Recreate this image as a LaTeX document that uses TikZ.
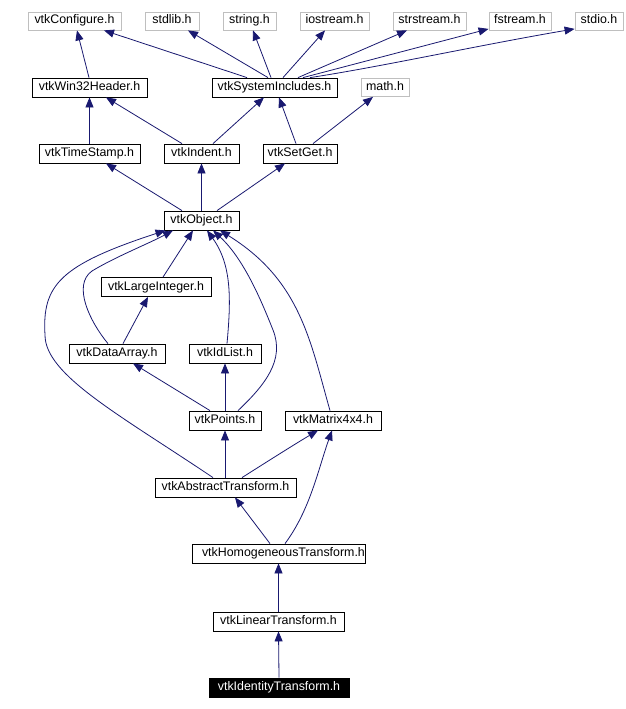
\documentclass[tikz,border=0pt]{standalone}
\usepackage{fontspec}
\setmainfont{Liberation Sans}
\usetikzlibrary{arrows.meta}
\definecolor{edgec}{HTML}{191970}
\definecolor{grayc}{HTML}{BFBFBF}
\begin{document}
\begin{tikzpicture}[x=1pt,y=-1pt,
  nbox/.style={draw=black,line width=0.8pt,fill=white,inner xsep=0pt,inner ysep=0pt,
    minimum height=19pt,text height=9pt,text depth=3pt,font=\fontsize{12.4}{14}\selectfont},
  gbox/.style={nbox,draw=grayc,minimum height=18pt},
  hbox/.style={nbox,fill=black,text=white},
  edge/.style={draw=edgec,line width=0.8pt,-{Triangle[length=10pt,width=8pt]}}]
\useasboundingbox[fill=white] (0,0) rectangle (625,709);
% row 1
\node[gbox,minimum width=93pt] (conf) at (74.5,21) {vtkConfigure.h};
\node[gbox,minimum width=54pt] (stdlib) at (172,21) {stdlib.h};
\node[gbox,minimum width=53pt] (string) at (249.5,21) {string.h};
\node[gbox,minimum width=69pt] (iostream) at (334.5,21) {iostream.h};
\node[gbox,minimum width=73pt] (strstream) at (429.5,21) {strstream.h};
\node[gbox,minimum width=62pt] (fstream) at (520,21) {fstream.h};
\node[gbox,minimum width=48pt] (stdio) at (599,21) {stdio.h};
% row 2
\node[nbox,minimum width=115pt] (win32) at (89.5,87.5) {vtkWin32Header.h};
\node[nbox,minimum width=125pt] (sysinc) at (274.5,87.5) {vtkSystemIncludes.h};
\node[gbox,minimum width=48pt] (math) at (385,87.5) {math.h};
% row 3
\node[nbox,minimum width=101pt] (tstamp) at (89.5,153.5) {vtkTimeStamp.h};
\node[nbox,minimum width=75pt] (indent) at (201.5,153.5) {vtkIndent.h};
\node[nbox,minimum width=74pt] (setget) at (300,153.5) {vtkSetGet.h};
% object
\node[nbox,minimum width=75pt] (object) at (201.5,220.5) {vtkObject.h};
\node[nbox,minimum width=110pt] (largeint) at (156,287) {vtkLargeInteger.h};
\node[nbox,minimum width=96pt] (darray) at (117,353.5) {vtkDataArray.h};
\node[nbox,minimum width=72pt] (idlist) at (225,353.5) {vtkIdList.h};
\node[nbox,minimum width=72pt] (points) at (225,420.5) {vtkPoints.h};
\node[nbox,minimum width=96pt] (matrix) at (333,420.5) {vtkMatrix4x4.h};
\node[nbox,minimum width=141pt] (abstr) at (225.5,487.5) {vtkAbstractTransform.h};
\node[nbox,minimum width=173pt] (homog) at (278.5,553.5) {\makebox[173pt][l]{\hspace{10pt}vtkHomogeneousTransform.h}};
\node[nbox,minimum width=131pt] (linear) at (278.5,621.5) {vtkLinearTransform.h};
\node[hbox,minimum width=140pt] (ident) at (279,687.5) {vtkIdentityTransform.h};
% edges: top
\draw[edge] ([xshift=-0.5pt]win32.north) -- ([xshift=2.5pt]conf.south);
\draw[edge] ([xshift=-27.5pt]sysinc.north) -- ([xshift=29.5pt]conf.south);
\draw[edge] ([xshift=-6.5pt]sysinc.north) -- ([xshift=16pt]stdlib.south);
\draw[edge] ([xshift=-3.5pt]sysinc.north) -- ([xshift=3.5pt]string.south);
\draw[edge] ([xshift=8.5pt]sysinc.north) -- ([xshift=-9.5pt]iostream.south);
\draw[edge] ([xshift=23.5pt]sysinc.north) -- ([xshift=-22.5pt]strstream.south);
\draw[edge] ([xshift=28.5pt]sysinc.north) -- ([yshift=1.5pt]fstream.south west);
\draw[edge] ([xshift=35.5pt]sysinc.north) .. controls (380,67) and (480,45) .. ([yshift=1.5pt]stdio.south west);
% row 3 to row 2
\draw[edge] (tstamp.north) -- (win32.south);
\draw[edge] ([xshift=-19.5pt]indent.north) -- ([xshift=16.5pt]win32.south);
\draw[edge] ([xshift=11.5pt]indent.north) -- ([xshift=-10.5pt]sysinc.south);
\draw[edge] ([xshift=-4pt]setget.north) -- ([xshift=4.5pt]sysinc.south);
\draw[edge] ([xshift=13pt]setget.north) -- ([xshift=-12pt]math.south);
% object to row 3
\draw[edge] ([xshift=-19.5pt]object.north) -- ([xshift=16.5pt]tstamp.south);
\draw[edge] (object.north) -- (indent.south);
\draw[edge] ([xshift=15.5pt]object.north) -- ([xshift=-15pt]setget.south);
% below object
\draw[edge] ([xshift=7pt]largeint.north) -- ([xshift=-8.5pt]object.south);
\draw[edge] ([xshift=6pt]darray.north) -- ([xshift=-8pt]largeint.south);
\draw[edge] ([xshift=-9pt]darray.north) .. controls (90,322) and (72,285) .. (92,271)
  .. controls (115,257) and (150,243) .. ([xshift=-28.5pt]object.south);
\draw[edge] ([xshift=-12.5pt]abstr.north) .. controls (120,415) and (45,375) .. (45,335)
  .. controls (42,285) and (60,265) .. ([xshift=-36pt]object.south);
\draw[edge] ([xshift=2pt]idlist.north) .. controls (231,300) and (232,265) .. ([xshift=5.5pt]object.south);
\draw[edge] ([xshift=13pt]points.north) .. controls (265,385) and (285,360) .. (273,330)
  .. controls (263,305) and (245,260) .. ([xshift=11.5pt]object.south);
\draw[edge] ([xshift=-3pt]matrix.north) .. controls (310,340) and (300,280) .. ([xshift=18.5pt]object.south);
\draw[edge] ([xshift=-15pt]points.north) -- ([xshift=16pt]darray.south);
\draw[edge] (points.north) -- (idlist.south);
\draw[edge] ([xshift=-0.5pt]abstr.north) -- ([xshift=0pt]points.south);
\draw[edge] ([xshift=16.5pt]abstr.north) .. controls (265,463) and (295,444) .. ([xshift=-15pt]matrix.south);
\draw[edge] ([xshift=-8.5pt]homog.north) -- ([xshift=9.5pt]abstr.south);
\draw[edge] ([xshift=6.5pt]homog.north) .. controls (310,510) and (318,470) .. ([xshift=-1pt]matrix.south);
\draw[edge] (linear.north) -- (homog.south);
\draw[edge] (ident.north) -- (linear.south);
\end{tikzpicture}
\end{document}
